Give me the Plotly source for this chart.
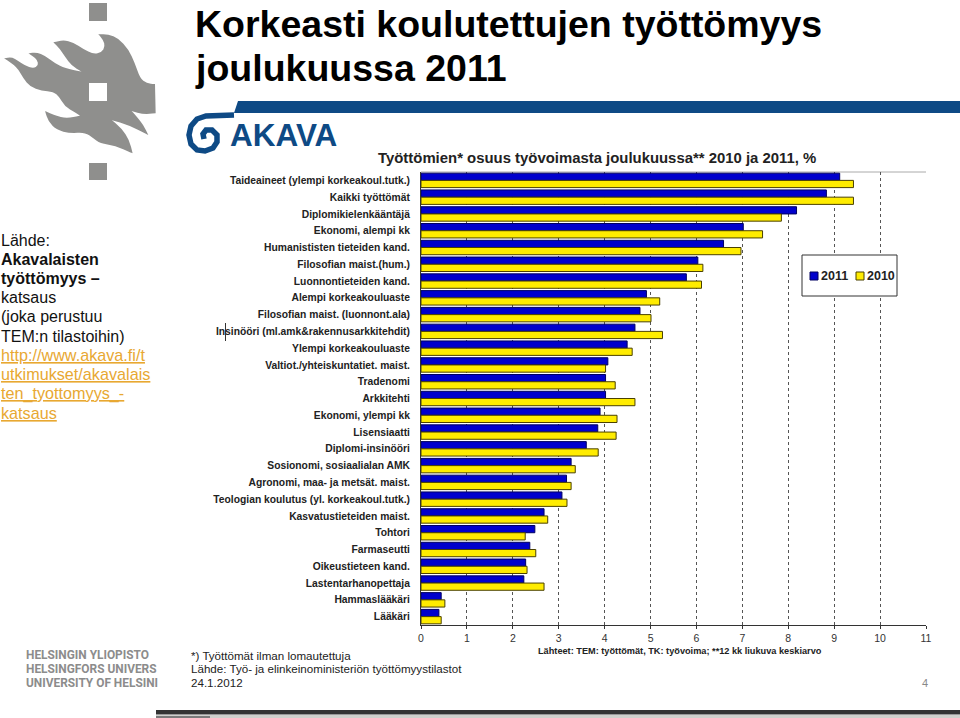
import plotly.graph_objects as go

W, H = 960, 718

categories = [
    "Taideaineet (ylempi korkeakoul.tutk.)", "Kaikki työttömät", "Diplomikielenkääntäjä",
    "Ekonomi, alempi kk", "Humanististen tieteiden kand.", "Filosofian maist.(hum.)",
    "Luonnontieteiden kand.", "Alempi korkeakouluaste", "Filosofian maist. (luonnont.ala)",
    "Insinööri (ml.amk&rakennusarkkitehdit)", "Ylempi korkeakouluaste",
    "Valtiot./yhteiskuntatiet. maist.", "Tradenomi", "Arkkitehti", "Ekonomi, ylempi kk",
    "Lisensiaatti", "Diplomi-insinööri", "Sosionomi, sosiaalialan AMK",
    "Agronomi, maa- ja metsät. maist.", "Teologian koulutus (yl. korkeakoul.tutk.)",
    "Kasvatustieteiden maist.", "Tohtori", "Farmaseutti", "Oikeustieteen kand.",
    "Lastentarhanopettaja", "Hammaslääkäri", "Lääkäri",
]
values_2011 = [9.12, 8.83, 8.18, 7.02, 6.59, 6.03, 5.78, 4.91, 4.77, 4.66, 4.49, 4.07, 4.02, 4.02,
               3.90, 3.85, 3.60, 3.27, 3.17, 3.07, 2.68, 2.48, 2.37, 2.28, 2.24, 0.44, 0.39]
values_2010 = [9.42, 9.42, 7.85, 7.44, 6.97, 6.14, 6.11, 5.20, 5.01, 5.26, 4.60, 4.02, 4.23, 4.66,
               4.27, 4.25, 3.86, 3.36, 3.27, 3.18, 2.76, 2.27, 2.50, 2.31, 2.68, 0.52, 0.44]

left_lines = ["Lähde:", "<b>Akavalaisten</b>", "<b>työttömyys –</b>", "katsaus", "(joka perustuu",
              "TEM:n tilastoihin)"]
link_lines = ["http://www.akava.fi/t", "utkimukset/akavalais", "ten_tyottomyys_-", "katsaus"]
foot_lines = ["*) Työttömät ilman lomautettuja", "Lähde: Työ- ja elinkeinoministeriön työttömyystilastot",
              "24.1.2012"]
uni_lines = ["HELSINGIN YLIOPISTO", "HELSINGFORS UNIVERS", "UNIVERSITY OF HELSINI"]

BLUE = "#0000cc"
YELLOW = "#ffec00"
NAVY = "#0e4a85"
GREY = "#8f8f8d"

# flame of the university logo, traced in pixels of a 3x crop (sharp points are listed twice)
flame = [(12, 100), (12, 100), (35, 96), (55, 108), (75, 122), (100, 130), (115, 122), (112, 105), (98, 93),
         (85, 85), (85, 85), (110, 82), (135, 92), (165, 115), (195, 130), (245, 140), (245, 140), (215, 122),
         (195, 95), (178, 70), (160, 52), (160, 52), (190, 45), (220, 52), (250, 72), (280, 87), (305, 82),
         (315, 65), (310, 45), (295, 28), (295, 28), (325, 28), (355, 40), (385, 72), (405, 115), (420, 160),
         (440, 175), (465, 177), (465, 177), (467, 265), (467, 265), (430, 268), (395, 258), (395, 258),
         (410, 275), (430, 300), (445, 330), (445, 330), (385, 300), (335, 285), (335, 285), (365, 310),
         (388, 345), (398, 385), (398, 385), (345, 362), (300, 355), (280, 340), (255, 322), (210, 325),
         (170, 315), (145, 290), (135, 258), (135, 258), (165, 272), (200, 280), (240, 272), (240, 272),
         (225, 262), (195, 245), (178, 215), (160, 200), (125, 197), (90, 185), (70, 160), (50, 125)]
swoosh = [(234, 115), (206, 116), (197, 119), (191, 126), (189, 135), (191, 144), (197, 150), (205, 151),
          (213, 148), (217, 142), (217, 135), (212, 130), (206, 130), (203, 134), (204, 139)]


def px(x):
    return x / W


def py(y):
    return 1 - y / H


def label(x, y, text, size=12, color="#111", anchor="left", family="Liberation Sans"):
    return dict(xref="paper", yref="paper", x=px(x - 2), y=py(y), text=text, showarrow=False,
                xanchor=anchor, yanchor="middle", align="left",
                font=dict(family=family, size=size, color=color))


def rect(x0, y0, x1, y1, color, line=None, layer="below"):
    return dict(type="rect", xref="paper", yref="paper", x0=px(x0), x1=px(x1), y0=py(y0), y1=py(y1),
                fillcolor=color, line=line or dict(width=0), layer=layer)


def smooth_path(points):
    # closed curve through the midpoints of the traced points
    pts = [(px(x / 3), py(25 + y / 3)) for x, y in points]
    mids = [((a[0] + b[0]) / 2, (a[1] + b[1]) / 2) for a, b in zip(pts, pts[1:] + pts[:1])]
    path = f"M {mids[-1][0]:.5f} {mids[-1][1]:.5f}"
    for p, m in zip(pts, mids):
        path += f" Q {p[0]:.5f} {p[1]:.5f} {m[0]:.5f} {m[1]:.5f}"
    return path + " Z"


fig = go.Figure()
fig.add_trace(go.Bar(y=categories, x=values_2011, name="2011", orientation="h",
                     marker=dict(color=BLUE, line=dict(color="#000060", width=1))))
fig.add_trace(go.Bar(y=categories, x=values_2010, name="2010", orientation="h",
                     marker=dict(color=YELLOW, line=dict(color="#4a4000", width=1))))

annotations = [
    label(195, 24, "<b>Korkeasti koulutettujen työttömyys</b>", 37.5, "#000"),
    label(195, 68, "<b>joulukuussa 2011</b>", 37.5, "#000"),
    label(378, 158, "<b>Työttömien* osuus työvoimasta joulukuussa** 2010 ja 2011, %</b>", 14.9, "#222"),
    label(538, 651, "<b>Lähteet: TEM: työttömät, TK: työvoima; **12 kk liukuva keskiarvo</b>", 9.2, "#222"),
    label(922, 683, "4", 11, "#888"),
    label(230, 135, "<b>AKAVA</b>", 31.5, NAVY),
    label(821, 276, "<b>2011</b>", 12.5, "#222"),
    label(867, 276, "<b>2010</b>", 12.5, "#222"),
]
for i, t in enumerate(left_lines):
    annotations.append(label(1, 240 + i * 19.2, t, 16, "#111"))
for i, t in enumerate(link_lines):
    annotations.append(label(1, 355 + i * 19.4, "<u>" + t + "</u>", 16.2, "#e8a832"))
for i, t in enumerate(foot_lines):
    annotations.append(label(191, 655 + i * 13.5, t, 11.6, "#222"))
for i, t in enumerate(uni_lines):
    annotations.append(label(26, 655 + i * 14, "<b>" + t + "</b>", 11.9, "#8c8c8c", family="Roboto"))

swoosh_path = "M " + " L ".join(f"{px(x):.5f} {py(y):.5f}" for x, y in swoosh)

shapes = [
    rect(89, 3, 107, 21, GREY),
    rect(89, 163, 107, 180, GREY),
    dict(type="path", xref="paper", yref="paper", path=smooth_path(flame), fillcolor=GREY,
         line=dict(width=0), layer="below"),
    rect(89, 83, 107, 101, "#ffffff"),
    rect(156, 710, 960, 714.5, "#333333"),
    rect(156, 715, 960, 718, "#cfcfcb"),
    rect(156, 716, 210, 718, "#7a7a7a"),
    dict(type="path", xref="paper", yref="paper", layer="below", fillcolor=NAVY, line=dict(width=0),
         path=f"M {px(238)} {py(101)} L {px(960)} {py(101)} L {px(960)} {py(113)} L {px(234)} {py(113)} Z"),
    dict(type="path", xref="paper", yref="paper", layer="below", path=swoosh_path,
         line=dict(color=NAVY, width=5.5)),
    dict(type="line", xref="paper", yref="paper", x0=px(225.5), x1=px(225.5), y0=py(323), y1=py(341),
         line=dict(color="#333", width=1)),
    dict(type="line", xref="paper", yref="paper", x0=px(421), x1=px(926), y0=py(172), y1=py(172),
         line=dict(color="#aaaaaa", width=1), layer="below"),
    # legend box, the built-in one cannot get this narrow
    rect(802, 255, 897, 296, "white", dict(color="#333", width=1), "above"),
    rect(810, 272, 818, 280, BLUE, dict(color="#000060", width=1), "above"),
    rect(856, 272, 864, 280, YELLOW, dict(color="#4a4000", width=1), "above"),
]

fig.update_layout(
    width=W, height=H, margin=dict(l=0, r=0, t=0, b=0),
    paper_bgcolor="white", plot_bgcolor="white",
    barmode="group", bargap=0.14, bargroupgap=0.0, showlegend=False,
    font=dict(family="Liberation Sans", color="#222"),
    xaxis=dict(domain=[px(421), px(926)], range=[0, 11], dtick=1, showgrid=True, gridcolor="#555",
               griddash="dot", gridwidth=1, showline=True, linecolor="#333", ticks="outside", ticklen=3,
               tickcolor="#333", tickfont=dict(size=10.5, color="#333"), zeroline=False, automargin=False),
    yaxis=dict(domain=[py(625), py(172)], autorange=False, range=[26.5, -0.5], showgrid=False, showline=True,
               linecolor="#333", ticks="", ticklabelstandoff=8, tickfont=dict(size=10.3, color="#222",
               family="Liberation Sans", weight="bold"), automargin=False, tickmode="linear", dtick=1),
    annotations=annotations, shapes=shapes,
)

fig.write_html("out.html", config={"displayModeBar": False},
               post_script="document.body.style.margin='0';document.body.style.overflow='hidden';")
